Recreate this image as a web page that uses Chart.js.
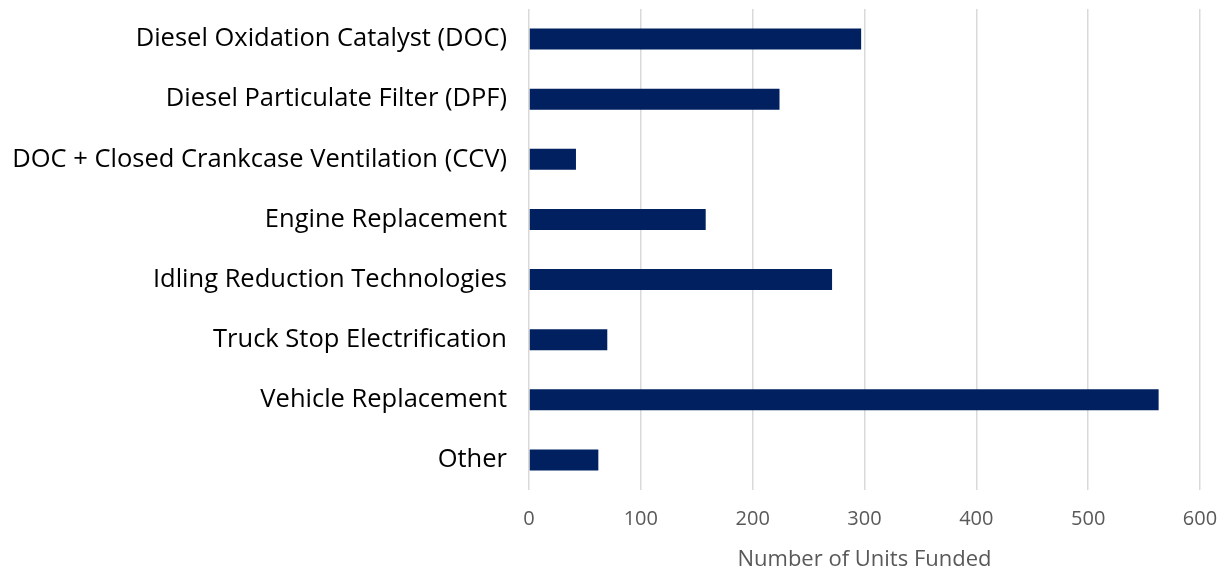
<!DOCTYPE html>
<html>
<head>
<meta charset="utf-8">
<script src="https://cdn.jsdelivr.net/npm/chart.js@4/dist/chart.umd.min.js"></script>
<style>
	html, body { margin: 0; padding: 0; background: #fff; }
	#wrap { width: 1225px; height: 573px; position: relative; }
</style>
</head>
<body>
<div id="wrap"><canvas id="chart"></canvas></div>
<script>
(() => {
	'use strict'

	// Categories and units funded per technology
	const categories = [
		'Diesel Oxidation Catalyst (DOC)',
		'Diesel Particulate Filter (DPF)',
		'DOC + Closed Crankcase Ventilation (CCV)',
		'Engine Replacement',
		'Idling Reduction Technologies',
		'Truck Stop Electrification',
		'Vehicle Replacement',
		'Other'
	];
	const unitsFunded = [297, 224, 42, 158, 271, 70, 563, 62];
	const xTicks = [0, 100, 200, 300, 400, 500, 600];

	const barColor = '#002060';
	const gridColor = '#d9d9d9';
	const tickColor = '#595959';
	const fontFamily = "'Open Sans', 'Noto Sans', sans-serif";

	const ctx = document.getElementById('chart');
	new Chart(ctx, {
		type: 'bar',
		data: {
			labels: categories,
			datasets: [{
				label: 'Number of Units Funded',
				data: unitsFunded,
				backgroundColor: barColor,
				barPercentage: 0.7,
				categoryPercentage: 0.5,
			}]
		},
		options: {
			indexAxis: 'y',
			responsive: true,
			maintainAspectRatio: false,
			animation: false,
			layout: {
				padding: { top: 9, right: 25, left: 0, bottom: 0 }
			},
			scales: {
				x: {
					min: 0,
					max: 600,
					afterBuildTicks: (axis) => {
						axis.ticks = xTicks.map(v => ({ value: v }));
					},
					afterFit: (axis) => {
						// fixed axis band under the plot, no extra side padding
						axis.height = 83;
						axis.paddingLeft = 0;
						axis.paddingRight = 0;
					},
					grid: {
						color: gridColor,
						lineWidth: 1.5,
						drawTicks: false,
					},
					border: { display: false },
					ticks: {
						color: tickColor,
						padding: 17,
						font: { family: fontFamily, size: 20 },
					},
					title: {
						display: true,
						text: 'Number of Units Funded',
						color: tickColor,
						padding: { top: 6, bottom: 0 },
						font: { family: fontFamily, size: 22 },
					}
				},
				y: {
					afterFit: (axis) => {
						axis.width = 529;
						axis.paddingTop = 0;
						axis.paddingBottom = 0;
					},
					grid: { display: false },
					border: { display: false },
					ticks: {
						color: '#000000',
						padding: 14,
						font: { family: fontFamily, size: 25.5 },
					}
				}
			},
			plugins: {
				legend: { display: false },
				title: { display: false },
				tooltip: { enabled: false }
			}
		}
	});
})()
</script>
</body>
</html>
